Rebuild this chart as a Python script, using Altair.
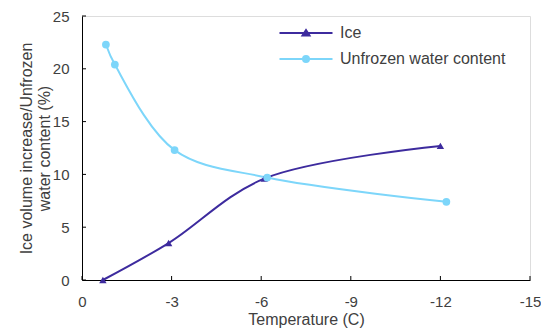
import altair as alt
import pandas as pd

ice_temp = [-0.7, -2.9, -6.1, -12.0]
ice_vals = [0.0, 3.5, 9.6, 12.7]
water_temp = [-0.8, -1.1, -3.1, -6.2, -12.2]
water_vals = [22.3, 20.4, 12.3, 9.7, 7.4]
series_names = ["Ice", "Unfrozen water content"]
series_colors = ["#3d2b9e", "#7dd6fa"]
x_ticks = [0, -3, -6, -9, -12, -15]
y_ticks = [0, 5, 10, 15, 20, 25]

df = pd.DataFrame({
    "temp": ice_temp + water_temp,
    "value": ice_vals + water_vals,
    "series": [series_names[0]] * len(ice_temp) + [series_names[1]] * len(water_temp),
})
xt = pd.DataFrame({"temp": x_ticks})
yt = pd.DataFrame({"value": y_ticks})

W, H = 448, 264
FONT = "Liberation Sans"
GREY = "#404040"

color_scale = alt.Scale(domain=series_names, range=series_colors)
legend_paths = [
    "M-5.3,0H5.3M0,-0.6L0.7,0.5L-0.7,0.5Z",
    "M-5.3,0H5.3M0.6,0A0.6,0.6 0 1 1 -0.6,0A0.6,0.6 0 1 1 0.6,0Z",
]
shape_scale = alt.Scale(domain=series_names, range=legend_paths)


def make_legend():
    return alt.Legend(
        title=None, orient="none", legendX=216, legendY=9, padding=0,
        symbolSize=100, symbolStrokeWidth=2, symbolOpacity=1, rowPadding=10,
        labelOffset=26, labelFontSize=16, labelFont=FONT, labelColor=GREY,
        labelLimit=400,
    )


x_scale = alt.Scale(domain=[-15, 0], reverse=True, nice=False)
y_scale = alt.Scale(domain=[0, 25], nice=False)

x_enc = alt.X("temp:Q", scale=x_scale,
              axis=alt.Axis(values=x_ticks, ticks=False, grid=False, labelPadding=14,
                            labelFontSize=15, labelColor=GREY, labelFont=FONT,
                            labelFlush=False, labelOverlap=False,
                            labelExpr="datum.value + ''",
                            title="Temperature (C)", titleFontSize=16, titleFont=FONT,
                            titleColor=GREY, titleFontWeight="normal", titleY=31,
                            titleBaseline="top", domainColor="#000000"))
y_enc = alt.Y("value:Q", scale=y_scale,
              axis=alt.Axis(values=y_ticks, ticks=False, grid=False, labelPadding=13,
                            labelFontSize=15, labelColor=GREY, labelFont=FONT,
                            labelFlush=False, labelOverlap=False,
                            title=["Ice volume increase/Unfrozen", "water content (%)"],
                            titleFontSize=16, titleFont=FONT, titleColor=GREY,
                            titleFontWeight="normal", titleX=-56, titleY=H / 2,
                            titleAngle=270, titleBaseline="middle", titleAlign="center",
                            titleLineHeight=18, domainColor="#000000"))

base = alt.Chart(df)

lines = base.mark_line(interpolate="catmull-rom", strokeWidth=2).encode(
    x=x_enc, y=y_enc,
    color=alt.Color("series:N", scale=color_scale, legend=make_legend()),
)
ice_pts = base.transform_filter(alt.datum.series == series_names[0]).mark_point(
    shape="triangle-up", filled=True, size=55, opacity=1).encode(
    x=x_enc, y=y_enc,
    color=alt.Color("series:N", scale=color_scale, legend=make_legend()),
)
water_pts = base.transform_filter(alt.datum.series == series_names[1]).mark_point(
    shape="circle", filled=True, size=60, opacity=1).encode(
    x=x_enc, y=y_enc,
    color=alt.Color("series:N", scale=color_scale, legend=make_legend()),
)
legend_layer = base.transform_filter("false").mark_point(filled=True, strokeWidth=2).encode(
    x=x_enc, y=y_enc,
    color=alt.Color("series:N", scale=color_scale, legend=make_legend()),
    stroke=alt.Stroke("series:N", scale=color_scale, legend=make_legend()),
    shape=alt.Shape("series:N", scale=shape_scale, legend=make_legend()),
)

xtick_layer = alt.Chart(xt).mark_rule(color="#000000", strokeWidth=1).encode(
    x=x_enc, y=alt.value(H), y2=alt.value(H - 4))
ytick_layer = alt.Chart(yt).mark_rule(color="#000000", strokeWidth=1).encode(
    y=y_enc, x=alt.value(0), x2=alt.value(4))

chart = alt.layer(lines, ice_pts, water_pts, legend_layer, xtick_layer, ytick_layer).properties(
    width=W, height=H,
    autosize=alt.AutoSizeParams(type="none"),
    padding={"left": 74, "top": 8, "right": 11, "bottom": 48},
).configure_view(stroke="#b3b3b3", strokeWidth=1).configure(background="white")

chart.save("out.html", embed_options={"renderer": "svg", "actions": False})
